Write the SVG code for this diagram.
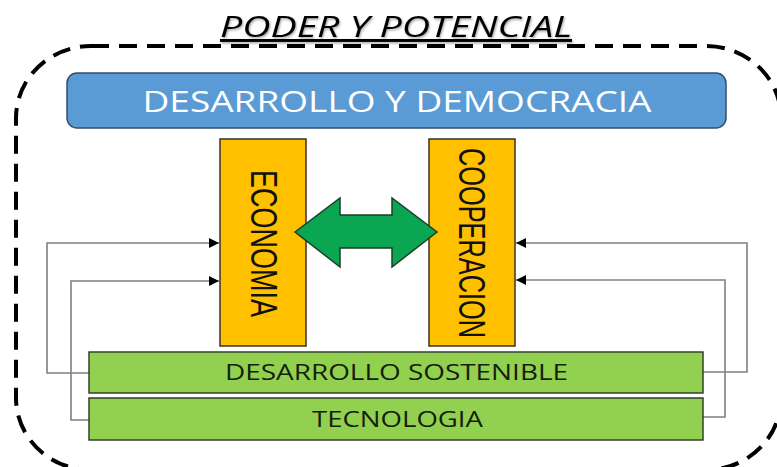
<svg xmlns="http://www.w3.org/2000/svg" width="777" height="467" viewBox="0 0 777 467">
<style>
.lbl{font-family:"Open Sans","Liberation Sans",sans-serif;}
.orange{fill:#FFC000;stroke:#3a3326;stroke-width:1.5;}
.green{fill:#92D050;stroke:#33402a;stroke-width:1.5;}
.vtext{font-family:"Liberation Sans",Arial,sans-serif;font-size:37px;fill:#111;}
.gtext{font-size:22px;fill:#15200c;}
.conn{fill:none;stroke:#808080;stroke-width:1.6;}
</style>
<defs>
<marker id="ah" viewBox="0 0 10 10" refX="10" refY="5" markerWidth="14" markerHeight="10" markerUnits="userSpaceOnUse" orient="auto">
<path d="M0,0 L10,5 L0,10 z" fill="#000"/>
</marker>
<filter id="sh" x="-10%" y="-30%" width="120%" height="160%">
<feDropShadow dx="1" dy="1.5" stdDeviation="1.2" flood-color="#000" flood-opacity="0.35"/>
</filter>
</defs>
<rect width="777" height="467" fill="#fff"/>
<g id="frame">
<rect x="16" y="46" width="765" height="424" rx="75" ry="72" fill="none" stroke="#000" stroke-width="4" stroke-dasharray="18 10"/>
</g>
<g id="title">
<text class="lbl" x="396" y="37" text-anchor="middle" font-size="29" font-style="italic" fill="#000" text-decoration="underline" textLength="352" lengthAdjust="spacingAndGlyphs" filter="url(#sh)">PODER Y POTENCIAL</text>
</g>
<g id="desarrollo-democracia">
<rect x="67" y="73" width="659" height="55" rx="10" fill="#5B9BD5" stroke="#2f4f6f" stroke-width="1.5"/>
<text class="lbl" x="397" y="112" text-anchor="middle" font-size="30" fill="#fff" textLength="509" lengthAdjust="spacingAndGlyphs">DESARROLLO Y DEMOCRACIA</text>
</g>
<g id="connectors">
<polyline class="conn" points="89,373 47,373 47,243 219,243" marker-end="url(#ah)"/>
<polyline class="conn" points="89,420 71,420 71,281 219,281" marker-end="url(#ah)"/>
<polyline class="conn" points="703,372 747,372 747,243 516,243" marker-end="url(#ah)"/>
<polyline class="conn" points="703,417 725,417 725,280 516,280" marker-end="url(#ah)"/>
</g>
<g id="economia">
<rect class="orange" x="220" y="139" width="86" height="207"/>
<text class="vtext" transform="translate(264,243.5) rotate(90)" x="0" y="13.5" text-anchor="middle" textLength="147" lengthAdjust="spacingAndGlyphs">ECONOMIA</text>
</g>
<g id="cooperacion">
<rect class="orange" x="429" y="139" width="86" height="207"/>
<text class="vtext" transform="translate(472,243) rotate(90)" x="0" y="13.5" text-anchor="middle" textLength="190" lengthAdjust="spacingAndGlyphs">COOPERACION</text>
</g>
<g id="double-arrow">
<polygon points="295,232 340,198 340,215 392,215 392,198 437,232 392,267 392,248 340,248 340,267" fill="#0BA651" stroke="#1d3d28" stroke-width="1.5" stroke-linejoin="miter"/>
</g>
<g id="desarrollo-sostenible">
<rect class="green" x="89" y="352" width="614" height="41"/>
<text class="lbl gtext" x="396.5" y="380" text-anchor="middle" textLength="343" lengthAdjust="spacingAndGlyphs">DESARROLLO SOSTENIBLE</text>
</g>
<g id="tecnologia">
<rect class="green" x="89" y="398" width="614" height="42"/>
<text class="lbl gtext" x="397.5" y="427" text-anchor="middle" textLength="171" lengthAdjust="spacingAndGlyphs">TECNOLOGIA</text>
</g>
</svg>
